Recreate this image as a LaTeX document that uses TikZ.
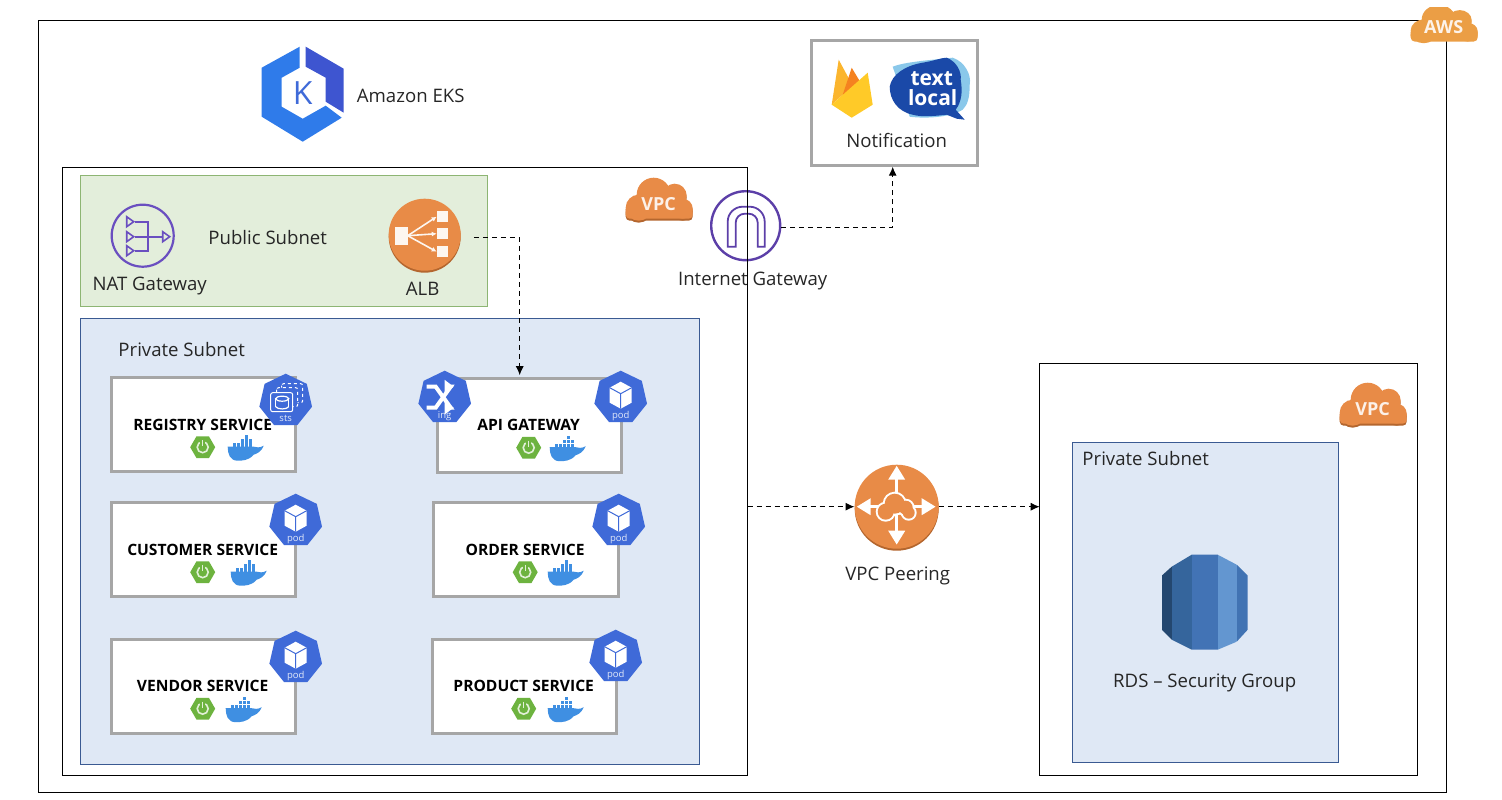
\documentclass[tikz,border=0pt]{standalone}
\usepackage{fontspec}
\setmainfont{Open Sans}
\usetikzlibrary{arrows.meta,shapes.geometric}

\definecolor{k8sblue}{HTML}{3F6AD8}
\definecolor{ekslight}{HTML}{2F7BEA}
\definecolor{eksdark}{HTML}{3E55D0}
\definecolor{awsorange}{HTML}{E88B47}
\definecolor{awsdark}{HTML}{B4662E}
\definecolor{awsyellow}{HTML}{EB9E45}
\definecolor{netpurple}{HTML}{5C3FA8}
\definecolor{natpurple}{HTML}{6A4FC0}
\definecolor{pubfill}{HTML}{E3EEDB}
\definecolor{publine}{HTML}{8DB573}
\definecolor{privfill}{HTML}{DFE8F5}
\definecolor{privline}{HTML}{3A5A92}
\definecolor{whaleblue}{HTML}{3F8FE2}
\definecolor{springgreen}{HTML}{6DB33F}
\definecolor{fireyellow}{HTML}{FFCA28}
\definecolor{fireamber}{HTML}{FBB52E}
\definecolor{fireorange}{HTML}{F58220}
\definecolor{tlblue}{HTML}{1A49A8}
\definecolor{tllight}{HTML}{8AC8EA}

\tikzset{
    cloudicon/.pic={
        % Dark rim first, then the cloud over it
        \foreach \tone/\dy in {awsdark/2,awsorange/0} {
            \foreach \px/\py/\pr in {-20/8/13,-5/-5/17,16/-4/12,24/9/10} {
                \fill[\tone] (\px,\py+\dy) circle (\pr pt);
            }
            \fill[\tone,rounded corners=4pt] (-33,6+\dy) rectangle (34,19+\dy);
        }
        \node[text=white!88!awsorange,font=\bfseries\fontsize{18}{20}\selectfont] (-text) at (0,4) {#1};
    },
    hepta/.style={regular polygon, regular polygon sides=7, minimum size=54pt, inner sep=0pt, fill=k8sblue},
    podtext/.style={text=white!85!k8sblue, inner sep=0pt, font=\fontsize{9.5}{10}\selectfont},
    podicon/.pic={
        \node[hepta] (-bg) at (0,0) {};
        \fill[white] (0,-16) -- (11,-10) -- (11,5) -- (0,11) -- (-11,5) -- (-11,-10) -- cycle;
        \draw[k8sblue,line width=1pt] (-11,-10) -- (0,-4) -- (11,-10) (0,-4) -- (0,11);
        \node[podtext] (-text) at (0,18) {pod};
    },
    ingicon/.pic={
        \node[hepta] (-bg) at (0,0) {};
        \draw[white,line width=4pt,-{Triangle[width=13pt,length=9pt]}] (-18,10) -- (-9,10) -- (6,-11) -- (9,-11);
        \draw[white,line width=4pt,-{Triangle[width=13pt,length=9pt]}] (-18,-11) -- (-9,-11) -- (6,10) -- (9,10);
        \node[podtext] (-text) at (0,18) {ing};
    },
    stsicon/.pic={
        \node[hepta] (-bg) at (0,0) {};
        \draw[white,line width=1pt,dashed,rounded corners=2pt] (-4,-17) rectangle (17,2);
        \draw[white,line width=1pt,dashed,rounded corners=2pt,fill=k8sblue] (-9,-13) rectangle (12,6);
        \draw[white,line width=1pt,rounded corners=2pt,fill=k8sblue] (-15,-8) rectangle (7,11);
        \draw[white,line width=1.2pt] (-10,-3) -- (-10,6) (3,-3) -- (3,6);
        \draw[white,line width=1.2pt] (-3.5,-2) ellipse (6.5pt and 2.5pt);
        \draw[white,line width=1.2pt] (-10,6) .. controls (-8,9) and (1,9) .. (3,6);
        \node[podtext] (-text) at (0,18) {sts};
    },
    springicon/.pic={
        \node[regular polygon, regular polygon sides=6, minimum size=25pt, inner sep=0pt, fill=springgreen] (-bg) at (0,0) {};
        \draw[white!80!springgreen,line width=1.6pt] (0,0) circle (5.5pt);
        \fill[springgreen] (-2.5,-7) rectangle (2.5,-2);
        \draw[white!80!springgreen,line width=1.4pt] (0,-7) -- (0,-1);
    },
    whaleicon/.pic={
        \fill[whaleblue] (-17,-2) -- (9,-2) .. controls (12,-2) and (14,0) .. (19,-3)
            .. controls (17,3) and (12,5) .. (9,6) .. controls (4,12) and (-3,12) .. (-7,12)
            .. controls (-15,12) and (-17,5) .. (-17,-2) -- cycle;
        \foreach \px/\py in {-12/-5.5,-8/-5.5,-4/-5.5,0/-5.5,4/-5.5,-4/-9.5,0/-9.5,4/-9.5,0/-13.5} {
            \fill[whaleblue] (\px,\py) rectangle +(3.4,3.4);
        }
    },
    frame/.style={draw=black, line width=0.8pt, inner sep=0pt, outer sep=0pt},
    pubsubnet/.style={draw=publine, fill=pubfill, line width=1pt, inner sep=0pt, outer sep=0pt},
    privsubnet/.style={draw=privline, fill=privfill, line width=0.8pt, inner sep=0pt, outer sep=0pt},
    servicebox/.style={draw=black!35, fill=white, line width=3pt, inner sep=0pt, outer sep=0pt, minimum height=94pt},
    caption/.style={text=black!85, inner sep=0pt, font=\fontsize{18.6}{21}\selectfont},
    flow/.style={dash pattern=on 5pt off 4pt, line width=1pt, -{Latex[length=9pt,width=8pt]}},
}

\begin{document}
\begin{tikzpicture}[x=1pt,y=-1pt]
\useasboundingbox (0.3,0.3) rectangle (1502.3,800.3);

% AWS account
\node[frame, minimum width=1408pt, minimum height=772pt] (aws) at (743,407) {};

% Internet gateway goes under the VPC line
\node[circle, draw=netpurple, line width=2.4pt, minimum size=69pt, inner sep=0pt] (igw) at (746,226) {};
\draw[netpurple, line width=1.8pt] (728,247) [rounded corners=15pt] -- (728,207) -- (765,207) [sharp corners] -- (765,247) -- (758,247)
    [rounded corners=9pt] -- (758,214) -- (736,214) [sharp corners] -- (736,247) -- cycle;
\node[caption] (igwtext) at (753,281) {Internet Gateway};

% VPC boxes
\node[frame, minimum width=685pt, minimum height=608pt] (eksvpc) at (405.5,472) {};
\node[frame, minimum width=378pt, minimum height=412pt] (rdsvpc) at (1229,570) {};

% Subnets
\node[pubsubnet, minimum width=407pt, minimum height=131pt] (pubnet) at (284.5,241.5) {};
\node[privsubnet, minimum width=619pt, minimum height=446pt] (privnet) at (390.5,542) {};
\node[privsubnet, minimum width=266pt, minimum height=320pt] (rdsnet) at (1206,603) {};
\node[caption] (pubtext) at (268,238) {Public Subnet};
\node[caption] (privtext) at (182,350) {Private Subnet};
\node[caption] (rdsnettext) at (1146,459) {Private Subnet};

% Services
\foreach \svc/\cx/\cy/\boxw/\wx/\title in {
    registry/204/425/184/245/REGISTRY SERVICE,
    customer/204/550/184/248/CUSTOMER SERVICE,
    vendor/204/686.5/184/243/VENDOR SERVICE,
    apigw/530/425.5/184/567/API GATEWAY,
    order/526.5/550/185/565/ORDER SERVICE,
    product/525/686.5/184/565/PRODUCT SERVICE} {
    \node[servicebox, minimum width=\boxw pt] (\svc) at (\cx,\cy) {};
    \node[inner sep=0pt, font=\bfseries\fontsize{15.6}{17}\selectfont] (\svc text) at (\cx-1,\cy) {\title};
    \pic (\svc spring) at (\cx-1,\cy+22.5) {springicon};
    \pic (\svc whale) at (\wx,\cy+24) {whaleicon};
}

% Kubernetes badges
\pic (stsbadge) at (286,401) {stsicon};
\pic (ingbadge) at (445,398) {ingicon};
\foreach \bx/\by/\bname in {621/398/apipod,296/521/custpod,296/658/vendpod,619/521/ordpod,616/657/prodpod} {
    \pic (\bname) at (\bx,\by) {podicon};
}

% Amazon EKS logo
\fill[ekslight] (300,47) -- (262,68) -- (262,117) -- (303,142) -- (342,118) -- (326,106)
    -- (303,119) -- (282,107) -- (282,78) -- (300,68) -- cycle;
\fill[eksdark] (306,47) -- (344,69) -- (344,113) -- (326,102) -- (326,78) -- (306,67) -- cycle;
\node[inner sep=0pt, text=k8sblue, font=\fontsize{32}{34}\selectfont] (ekslogo) at (303,93) {K};
\node[caption] (ekstext) at (411,96) {Amazon EKS};

% NAT gateway
\node[circle, draw=natpurple, line width=2.2pt, minimum size=62pt, inner sep=0pt] (nat) at (143,236) {};
\draw[natpurple, line width=2pt] (135,222) -- (148,222) -- (148,251) -- (135,251) (135,237) -- (163,237);
\foreach \ty in {222,237,251} {
    \draw[natpurple, line width=1.6pt] (127,\ty-5) -- (134,\ty) -- (127,\ty+5) -- cycle;
}
\draw[natpurple, line width=1.6pt] (163,232) -- (170,237) -- (163,242) -- cycle;
\node[caption] (nattext) at (150,286) {NAT Gateway};

% ALB
\fill[awsdark] (425,237) circle (36pt);
\node[circle, fill=awsorange, minimum size=72pt, inner sep=0pt] (alb) at (425,235) {};
\fill[white!92!awsorange] (395,227) rectangle (408,245);
\foreach \ry in {217,234,252} {
    \fill[white!92!awsorange] (437,\ry-5.5) rectangle (448,\ry+5.5);
    \draw[white!92!awsorange, line width=1.6pt, -{Latex[length=5pt,width=5pt]}] (408,236) -- (437,\ry);
}
\node[caption] (albtext) at (423,289) {ALB};

% Notification box
\node[draw=black!35, line width=3pt, minimum width=166pt, minimum height=125pt, inner sep=0pt, outer sep=0pt] (notif) at (895,103.5) {};
\fill[fireamber] (832,105) -- (839,60) -- (853,86) -- cycle;
\fill[fireorange] (842,98) -- (852,68) -- (864,88) -- cycle;
\fill[fireyellow] (832,105) -- (868,73) -- (873,105) -- (852,118) -- cycle;
\fill[tllight] (893,67) .. controls (905,62) and (935,60) .. (953,58) .. controls (965,62) and (972,75) .. (970,85)
    .. controls (970,98) and (968,105) .. (963,110) .. controls (950,118) and (925,119) .. (910,117) -- cycle;
\fill[tlblue] (890,87) .. controls (892,75) and (905,66) .. (923,63) .. controls (935,61) and (942,58) .. (947,58)
    .. controls (957,62) and (962,72) .. (961,80) .. controls (963,92) and (962,102) .. (956,110) -- (965,120) -- (957,119)
    -- (947,115) .. controls (930,117) and (920,117) .. (913,115) .. controls (898,112) and (890,100) .. (890,87) -- cycle;
\node[inner sep=0pt, text=white, font=\bfseries\fontsize{21}{23}\selectfont] (texttop) at (932,79) {text};
\node[inner sep=0pt, text=white, font=\bfseries\fontsize{21}{23}\selectfont] (textlow) at (933,98) {local};
\node[caption] (notiftext) at (897,141) {Notification};

% VPC peering
\fill[awsdark] (897,509) circle (42pt);
\node[circle, fill=awsorange, minimum size=84pt, inner sep=0pt] (peer) at (897,507) {};
\draw[white, line width=3.5pt, {Triangle[width=16pt,length=14pt]}-{Triangle[width=16pt,length=14pt]}] (897,466) -- (897,545);
\draw[white, line width=3.5pt, {Triangle[width=16pt,length=14pt]}-{Triangle[width=16pt,length=14pt]}] (857,507) -- (936,507);
\foreach \tone/\gr in {white/2,awsorange/0} {
    \foreach \px/\py/\pr in {-10/5/8,-1/-3/10,10/1/7,13/6/6} {
        \fill[\tone] (896+\px,507+\py) circle [radius=\pr pt+\gr pt];
    }
    \fill[\tone] (886-\gr,505) rectangle (909+\gr,512+\gr);
}
\node[caption] (peertext) at (898,576) {VPC Peering};

% RDS
\begin{scope}
\clip (1192,555) -- (1218,555) -- (1237,565) -- (1248,576) -- (1248,630) -- (1237,642) -- (1218,650)
    -- (1192,650) -- (1172,640) -- (1162,630) -- (1162,576) -- (1172,567) -- cycle;
\foreach \xa/\xb/\tone in {1162/1172/24476F,1172/1192/35659C,1192/1218/4273B5,1218/1237/6396D0,1237/1248/4173B3} {
    \definecolor{stripe}{HTML}{\tone}
    \fill[stripe] (\xa,550) rectangle (\xb,655);
}
\end{scope}
\node[caption] (rdstext) at (1205,683) {RDS -- Security Group};

% Cloud tags
\begin{scope}
\clip (1400,8) rectangle (1490,50);
\colorlet{awsorange}{awsyellow}
\colorlet{awsdark}{awsyellow}
\pic[yscale=.85] (awstag) at (1444,24) {cloudicon=AWS};
\end{scope}
\pic (vpctag) at (659,200) {cloudicon=VPC};
\pic (rdstag) at (1373,405) {cloudicon=VPC};

% Connections
\draw[flow, shorten <=13pt] ([yshift=-3pt]alb.east) -| ([xshift=-10pt,yshift=3pt]apigw.north);
\draw[flow] ([yshift=-2pt]igw.east) -| ([xshift=-2pt,yshift=-1pt]notif.south);
\draw[flow] (peer.west -| eksvpc.east) -- (peer.west);
\draw[flow] (peer.east) -- (peer.east -| rdsvpc.west);

\end{tikzpicture}
\end{document}
